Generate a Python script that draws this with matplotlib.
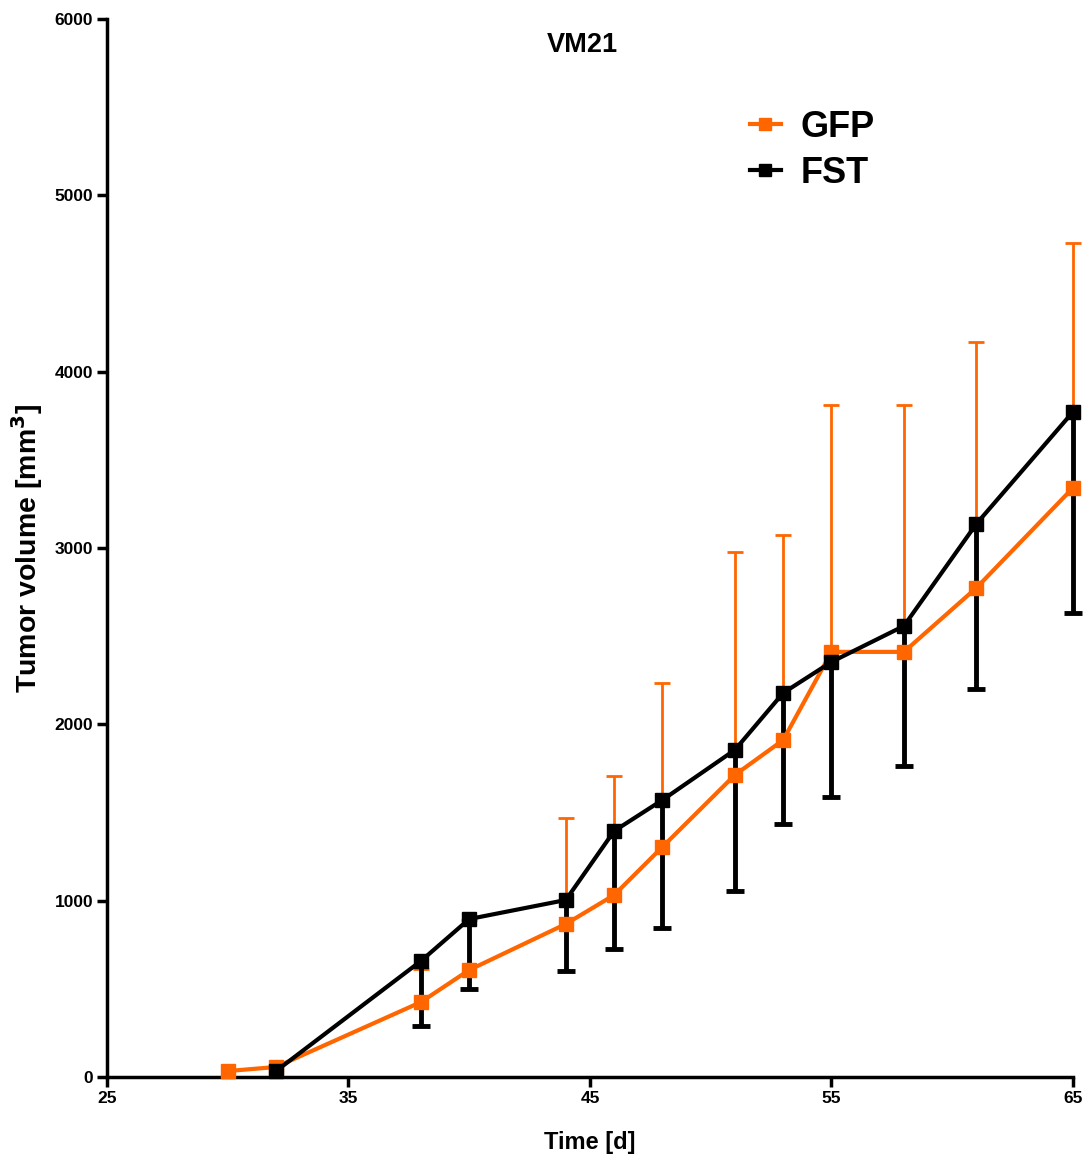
import matplotlib
matplotlib.use("Agg")
import matplotlib.pyplot as plt

plt.rcParams['font.family'] = ['Liberation Sans', 'DejaVu Sans']
plt.rcParams['font.weight'] = 'bold'

days_gfp = [30, 32, 38, 40, 44, 46, 48, 51, 53, 55, 58, 61, 65]
gfp_mean = [34, 57, 425, 607, 868, 1032, 1305, 1713, 1911, 2411, 2411, 2774, 3341]
gfp_upper = [34, 57, 612, 890, 1469, 1707, 2235, 2978, 3074, 3812, 3812, 4169, 4730]

days_fst = [32, 38, 40, 44, 46, 48, 51, 53, 55, 58, 61, 65]
fst_mean = [34, 658, 896, 1004, 1395, 1571, 1855, 2178, 2354, 2558, 3137, 3772]
fst_lower = [34, 289, 499, 601, 726, 845, 1055, 1435, 1588, 1764, 2201, 2632]

orange = '#FF6600'

fig = plt.figure(figsize=(10.88, 11.64), dpi=100)
ax = fig.add_axes([0.0983, 0.0747, 0.8879, 0.909])

# GFP: upper error bars only
gfp_bars = [(x, m, u) for x, m, u in zip(days_gfp, gfp_mean, gfp_upper) if u > m]
ax.vlines([b[0] for b in gfp_bars], [b[1] for b in gfp_bars], [b[2] for b in gfp_bars],
          color=orange, linewidth=2, zorder=2, clip_on=False)
ax.plot([b[0] for b in gfp_bars], [b[2] for b in gfp_bars], linestyle='none', marker='_',
        markersize=12, markeredgewidth=2, color=orange, zorder=2, clip_on=False)
# FST: lower error bars only
fst_bars = [(x, m, l) for x, m, l in zip(days_fst, fst_mean, fst_lower) if l < m]
ax.vlines([b[0] for b in fst_bars], [b[2] for b in fst_bars], [b[1] for b in fst_bars],
          color='black', linewidth=3.5, zorder=3, clip_on=False)
ax.plot([b[0] for b in fst_bars], [b[2] for b in fst_bars], linestyle='none', marker='_',
        markersize=13, markeredgewidth=3.5, color='black', zorder=3, clip_on=False)

l1, = ax.plot(days_gfp, gfp_mean, color=orange, marker='s', markersize=10, linewidth=3,
              label='GFP', zorder=4, clip_on=False)
l2, = ax.plot(days_fst, fst_mean, color='black', marker='s', markersize=10, linewidth=3,
              label='FST', zorder=5, clip_on=False)

ax.set_xlim(25, 65)
ax.set_ylim(0, 6000)
ax.set_xticks([25, 35, 45, 55, 65])
ax.set_yticks([0, 1000, 2000, 3000, 4000, 5000, 6000])
for s in ['top', 'right']:
    ax.spines[s].set_visible(False)
for s in ['left', 'bottom']:
    ax.spines[s].set_linewidth(2.5)
ax.tick_params(axis='both', direction='out', length=7, width=2.5, labelsize=12.5, pad=3)
for lab in ax.get_xticklabels() + ax.get_yticklabels():
    lab.set_fontweight('bold')

ax.set_xlabel('Time [d]', fontsize=17, fontweight='bold', labelpad=18)
ax.set_ylabel('Tumor volume [mm$^\\mathbf{3}$]', fontsize=20.5, fontweight='bold', labelpad=7)
ax.text(0.492, 0.975, 'VM21', transform=ax.transAxes, ha='center', va='center',
        fontsize=19.5, fontweight='bold')

ax.legend([l1, l2], ['GFP', 'FST'], loc='upper left', bbox_to_anchor=(0.632, 0.945),
          frameon=False, handlelength=0.85, handletextpad=0.55, labelspacing=0.3,
          prop={'weight': 'bold', 'size': 26}, markerscale=0.9)

fig.savefig('out.png', dpi=100)
